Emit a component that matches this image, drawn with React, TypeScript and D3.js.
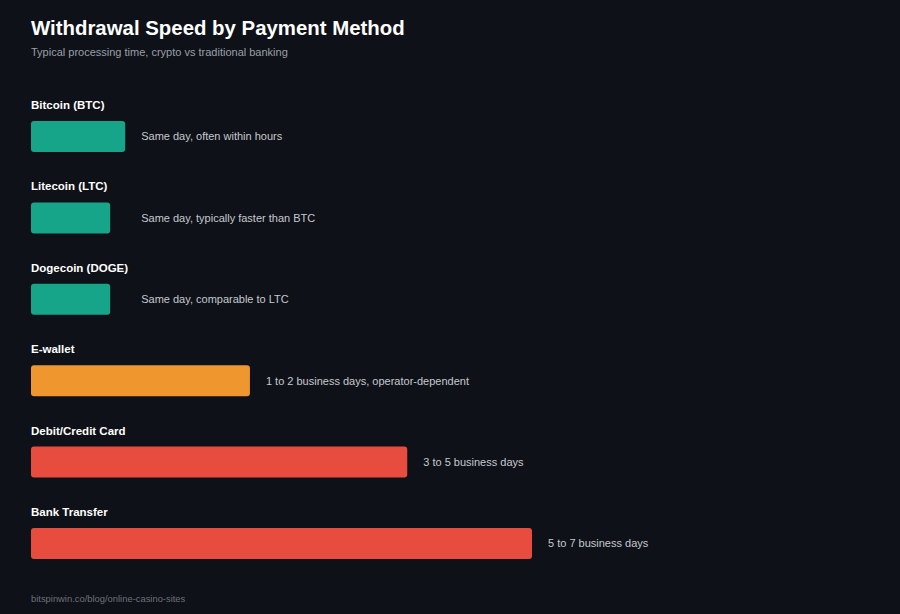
import React from "react";
import * as d3 from "d3";

const methods = ["Bitcoin (BTC)", "Litecoin (LTC)", "Dogecoin (DOGE)", "E-wallet", "Debit/Credit Card", "Bank Transfer"];
const speedScore = [18.8, 15.8, 15.8, 43.7, 75.1, 100];
const notes = [
  "Same day, often within hours",
  "Same day, typically faster than BTC",
  "Same day, comparable to LTC",
  "1 to 2 business days, operator-dependent",
  "3 to 5 business days",
  "5 to 7 business days",
];
const tiers = ["crypto", "crypto", "crypto", "ewallet", "card", "bank"];
const tierColors: Record<string, string> = { crypto: "#17a589", ewallet: "#f0962e", card: "#e74c3f", bank: "#e74c3f" };

const W = 900, H = 614;
const FONT = "'Liberation Sans', Arial, Helvetica, sans-serif";

export default function App() {
  const x = d3.scaleLinear().domain([0, 100]).range([31, 532]);
  const y = d3.scalePoint<number>().domain(d3.range(methods.length)).range([121, 528]);
  const barH = 31;
  const tierMax = d3.rollup(
    d3.range(methods.length),
    (idx) => d3.max(idx, (i) => speedScore[i])!,
    (i) => tiers[i]
  );
  return (
    <svg width={W} height={H} style={{ position: "absolute", left: 0, top: 0, display: "block", background: "#0e1117" }} fontFamily={FONT}>
      <rect width={W} height={H} fill="#0e1117" />
      <text x={31} y={35} fill="#ffffff" fontSize={20.4} fontWeight={700}>Withdrawal Speed by Payment Method</text>
      <text x={31} y={56} fill="#9aa0a8" fontSize={11}>Typical processing time, crypto vs traditional banking</text>
      {methods.map((m, i) => {
        const y0 = y(i)!;
        return (
          <g key={m}>
            <text x={31} y={y0 - 12} fill="#ffffff" fontSize={11.5} fontWeight={700}>{m}</text>
            <rect x={x(0)} y={y0} width={x(speedScore[i]) - x(0)} height={barH} rx={3} fill={tierColors[tiers[i]]} />
            <text x={x(tierMax.get(tiers[i])!) + 16} y={y0 + barH / 2} dy="0.35em" fill="#c5c9cf" fontSize={11}>{notes[i]}</text>
          </g>
        );
      })}
      <text x={31} y={602} fill="#6b717a" fontSize={9.4}>bitspinwin.co/blog/online-casino-sites</text>
    </svg>
  );
}
